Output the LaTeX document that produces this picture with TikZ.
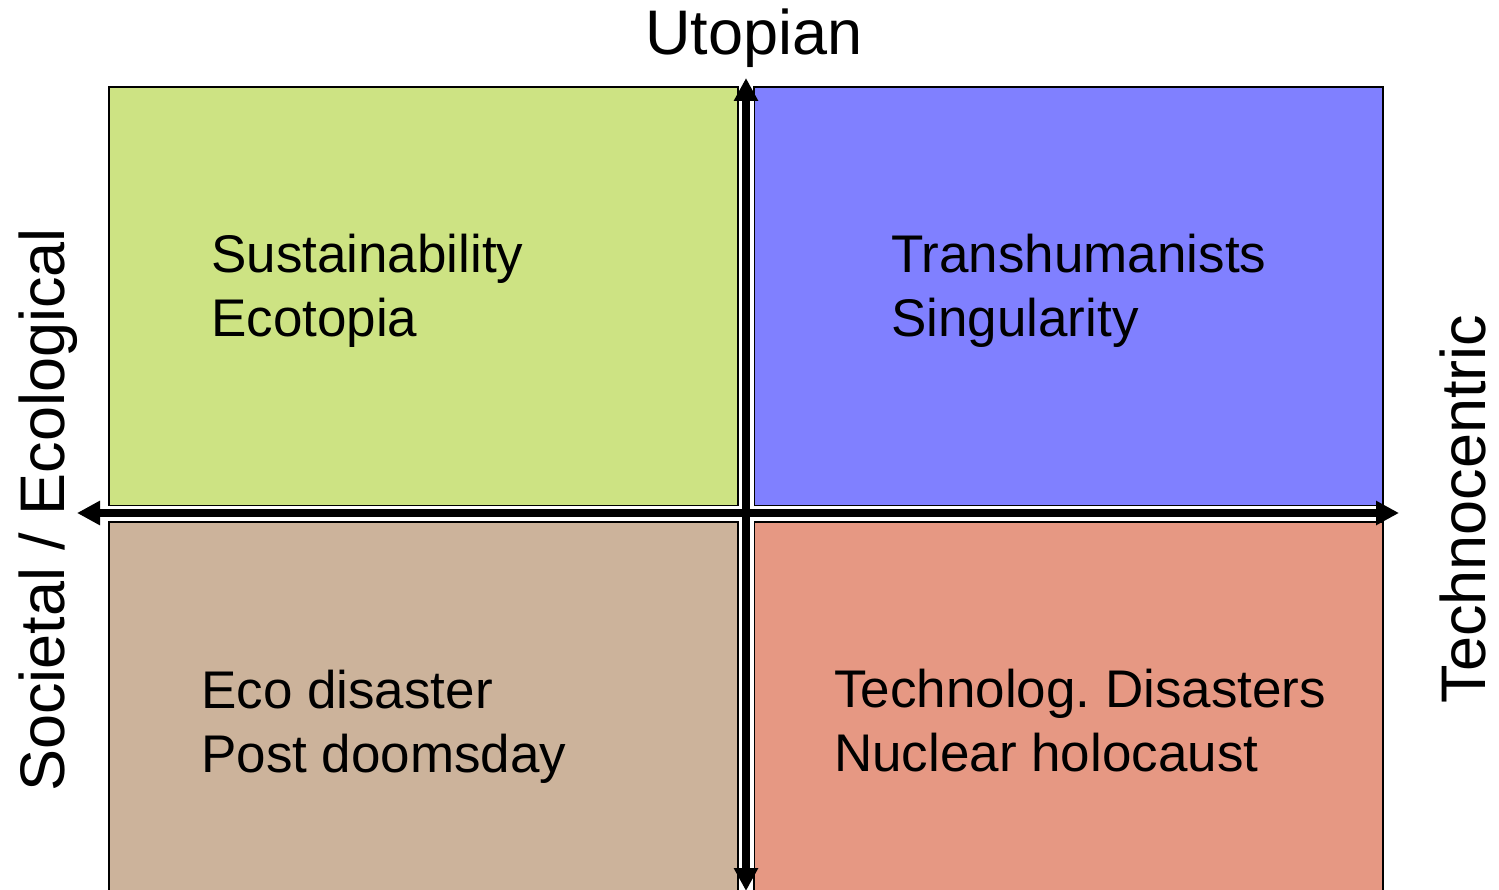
\documentclass[tikz,border=0pt]{standalone}
\usepackage{fontspec}
\setmainfont{Liberation Sans}
\usetikzlibrary{arrows.meta}
\definecolor{qgreen}{RGB}{205,227,131}
\definecolor{qblue}{RGB}{128,128,255}
\definecolor{qbrown}{RGB}{204,179,155}
\definecolor{qsalmon}{RGB}{230,152,131}
\tikzset{
  quad/.style={draw=black, line width=2pt, anchor=north west, inner sep=0pt, outer sep=0pt},
  quadtext/.style={anchor=base west, align=left, inner sep=0pt, font=\fontsize{53}{64}\selectfont\frenchspacing},
  axislabel/.style={anchor=base, inner sep=0pt, text depth=0pt, font=\fontsize{63}{70}\selectfont},
  halo/.style={white, line width=15pt},
  axis/.style={black, line width=8pt, {Triangle[length=23pt,width=23pt]}-{Triangle[length=23pt,width=23pt]}}
}
\begin{document}
\begin{tikzpicture}[x=1pt,y=-1pt]
\clip (0,0) rectangle (1499,890);
\fill[white] (0,0) rectangle (1499,890);
% quadrants
\node[quad, fill=qgreen, minimum width=629pt, minimum height=419pt] (q1) at (109,87) {};
\node[quad, fill=qblue, minimum width=629pt, minimum height=419pt] (q2) at (754,87) {};
\node[quad, fill=qbrown, minimum width=629pt, minimum height=450pt] (q3) at (109,522) {};
\node[quad, fill=qsalmon, minimum width=629pt, minimum height=450pt] (q4) at (754,522) {};
% axes
\coordinate (L) at (77,513);
\coordinate (R) at (1399,513);
\coordinate (T) at (746,78);
\coordinate (B) at (746,891);
\coordinate (Lh) at (100,513);
\coordinate (Rh) at (1376,513);
\coordinate (Th) at (746,101);
\coordinate (Bh) at (746,868);
\draw[halo] (Lh) -- (Rh);
\draw[halo] (Th) -- (Bh);
\draw[axis] (L) -- (R);
\draw[axis] (T) -- (B);
% texts (anchor = baseline of the last line)
\node[quadtext] (t1) at (211,337) {Sustainability\\Ecotopia};
\node[quadtext] (t2) at (891,337) {Transhumanists\\Singularity};
\node[quadtext] (t3) at (201,772) {Eco disaster\\Post doomsday};
\node[quadtext] (t4) at (834,771) {Technolog. Disasters\\Nuclear holocaust};
\node[axislabel] (top) at (754,55) {Utopian};
\node[axislabel, rotate=90] (left) at (64,510) {Societal / Ecological};
\node[axislabel, rotate=90] (right) at (1485,509) {Technocentric};
\end{tikzpicture}
\end{document}
